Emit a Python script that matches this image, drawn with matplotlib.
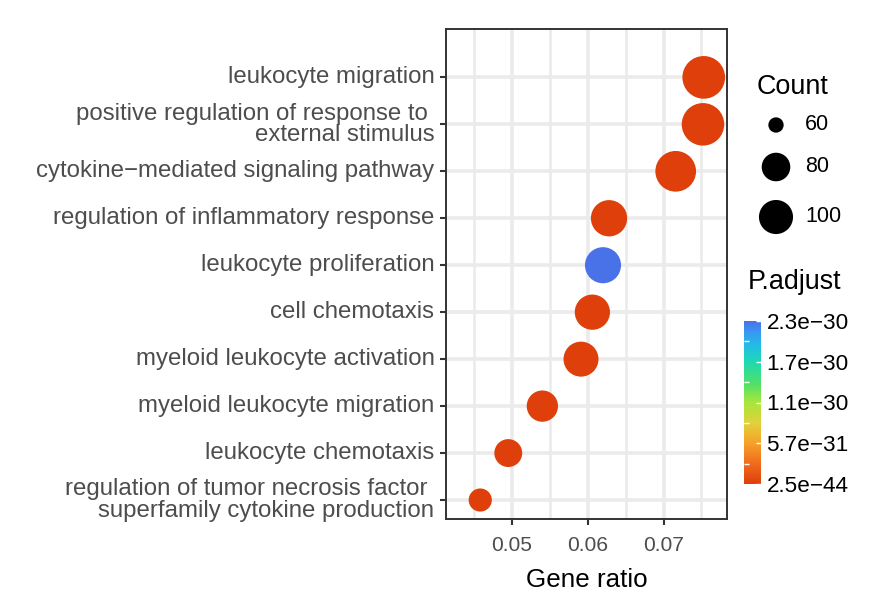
import numpy as np
import matplotlib
matplotlib.use("Agg")
import matplotlib.pyplot as plt
from matplotlib.colors import LinearSegmentedColormap, Normalize
from matplotlib.ticker import MultipleLocator, FormatStrFormatter

plt.rcParams["font.family"] = ["Liberation Sans", "DejaVu Sans"]

# GO terms, top to bottom as shown on the y axis
terms = [
    "leukocyte migration",
    "positive regulation of response to \nexternal stimulus",
    "cytokine\u2212mediated signaling pathway",
    "regulation of inflammatory response",
    "leukocyte proliferation",
    "cell chemotaxis",
    "myeloid leukocyte activation",
    "myeloid leukocyte migration",
    "leukocyte chemotaxis",
    "regulation of tumor necrosis factor \nsuperfamily cytokine production",
]
gene_ratio = [0.0753, 0.0752, 0.0716, 0.0628, 0.0620, 0.0606, 0.0591, 0.0540, 0.0495, 0.0458]
counts = [145, 144, 133, 110, 109, 105, 104, 89, 78, 67]
p_adjust = [2.5e-44, 6.3e-42, 1.8e-41, 4.4e-36, 2.28e-30, 3.1e-39, 1.2e-37, 8.5e-39, 5.0e-38, 7.2e-34]
legend_counts = [60, 80, 100]

DPI = 100
W, H = 873, 612


def diam_px(c):
    # tamaño del punto (diámetro en píxeles) según el número de genes
    return 15.3 + 2.97 * np.sqrt(max(c - 60, 0))


def marker_area(c):
    return (diam_px(c) * 72 / DPI) ** 2


cmap = LinearSegmentedColormap.from_list("padj", [
    (0.00, "#DF3F0B"),
    (0.12, "#F06A1C"),
    (0.25, "#F7A02A"),
    (0.37, "#E2D13A"),
    (0.50, "#A8E63A"),
    (0.62, "#4DE06A"),
    (0.75, "#1FD9B2"),
    (0.85, "#22BDE6"),
    (0.94, "#3A94F2"),
    (1.00, "#4A72E8"),
])
norm = Normalize(min(p_adjust), max(p_adjust))

fig = plt.figure(figsize=(W / DPI, H / DPI), dpi=DPI)
ax = fig.add_axes([446 / W, 1 - 519 / H, (727 - 446) / W, (519 - 29) / H])

pos = np.arange(len(terms), 0, -1)
ax.scatter(gene_ratio, pos, s=[marker_area(c) for c in counts], c=p_adjust,
           cmap=cmap, norm=norm, linewidths=0, zorder=3)

ax.set_xlim(0.04128, 0.07837)
ax.set_ylim(0.596, 11.03)
ax.xaxis.set_major_locator(MultipleLocator(0.01))
ax.xaxis.set_minor_locator(MultipleLocator(0.005))
ax.xaxis.set_major_formatter(FormatStrFormatter("%.2f"))
ax.set_yticks(pos)
ax.set_yticklabels(terms)
for lbl in ax.get_yticklabels():
    lbl.set_linespacing(0.98)
    lbl.set_verticalalignment("center")

ax.set_axisbelow(True)
ax.grid(which="major", color="#EBEBEB", lw=2.6)
ax.grid(which="minor", axis="x", color="#EBEBEB", lw=1.9)
ax.tick_params(which="minor", length=0)
ax.tick_params(which="major", length=4.3, width=1.5, color="#333333", labelcolor="#4D4D4D")
ax.tick_params(axis="y", labelsize=17.3, pad=4)
ax.tick_params(axis="x", labelsize=15.1, pad=8)
for sp in ax.spines.values():
    sp.set_color("#333333")
    sp.set_linewidth(1.4)
ax.set_xlabel("Gene ratio", fontsize=18.7, color="black", labelpad=9.5)

# barra de color de P.adjust
cax = fig.add_axes([744 / W, 1 - 484 / H, 17 / W, 163 / H])
sm = plt.cm.ScalarMappable(norm=norm, cmap=cmap)
cb = fig.colorbar(sm, cax=cax)
cb.outline.set_visible(False)
ticks = np.linspace(min(p_adjust), max(p_adjust), 5)
cb.set_ticks(ticks)
cb.set_ticklabels([f"{t:.1e}".replace("-", "\u2212") for t in ticks])
cb.set_ticks((ticks[:-1] + ticks[1:]) / 2, minor=True)
cax.tick_params(which="major", direction="in", color="white", length=3.5, width=1,
                labelsize=16.2, labelcolor="black", pad=4, left=False, right=True)
cax.tick_params(which="minor", direction="in", color="white", length=3.5, width=1,
                left=True, right=False)

# leyenda de tamaño (Count)
lg = fig.add_axes([0, 0, 1, 1])
lg.set_xlim(0, W)
lg.set_ylim(H, 0)
lg.axis("off")
key_y = [125, 167, 217]
lg.scatter([776] * len(legend_counts), key_y, s=[marker_area(c) for c in legend_counts],
           color="black", linewidths=0)
for c, y in zip(legend_counts, key_y):
    lg.text(805, y, str(c), fontsize=15.5, va="center", ha="left")
lg.text(757, 87, "Count", fontsize=19.4, va="center", ha="left")
lg.text(748, 282, "P.adjust", fontsize=19.4, va="center", ha="left")

fig.savefig("out.png", dpi=DPI)
